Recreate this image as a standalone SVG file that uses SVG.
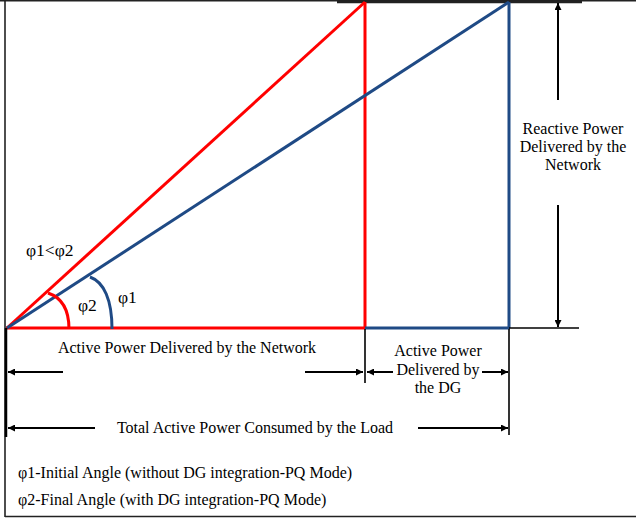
<svg xmlns="http://www.w3.org/2000/svg" width="636" height="518" viewBox="0 0 636 518">
<defs>
<style>
.t{font-family:'Liberation Serif','Times New Roman',Times,serif;font-size:16px;fill:#000}
.red{stroke:#ff0000;stroke-width:3;fill:none}
.blue{stroke:#1f4a85;stroke-width:3;fill:none}
.blk{stroke:#000;stroke-width:1.6;fill:none}
.dim{stroke:#000;stroke-width:2;fill:none}
</style>
<marker id="ah" viewBox="0 0 10 10" refX="10" refY="5" markerWidth="8" markerHeight="7" orient="auto-start-reverse" markerUnits="userSpaceOnUse">
<path d="M0,0 L10,5 L0,10 z" fill="#000"/>
</marker>
</defs>
<rect width="636" height="518" fill="#fff"/>
<g id="frame">
<path d="M0,0.8 H636 M5,0 V517 M5,516.5 H636" stroke="#222" stroke-width="1.6" fill="none"/>
<line x1="337" y1="2" x2="582" y2="2" stroke="#222" stroke-width="2.5"/>
</g>
<g id="connectors">
<line class="red" x1="7" y1="328" x2="365" y2="2"/>
<line class="red" x1="365" y1="2" x2="365" y2="328"/>
<line class="red" x1="6" y1="328" x2="366" y2="328"/>
<line class="blue" x1="7" y1="328" x2="509" y2="2"/>
<line class="blue" x1="509" y1="2" x2="509" y2="328"/>
<line class="blue" x1="365" y1="328" x2="510" y2="328"/>
<line class="blk" x1="509" y1="328" x2="579" y2="328"/>
<path class="red" d="M48,293 C60,297 69,308 69,329"/>
<path class="blue" d="M90,277 C104,282 112,300 112,329"/>
<line class="blk" x1="365" y1="329" x2="365" y2="383"/>
<line class="blk" x1="509" y1="329" x2="509" y2="435"/>
<line x1="6" y1="328" x2="6" y2="437" stroke="#000" stroke-width="2.5"/>
<line class="dim" x1="63" y1="372" x2="8" y2="372" marker-end="url(#ah)"/>
<line class="dim" x1="305" y1="372" x2="363" y2="372" marker-end="url(#ah)"/>
<line class="dim" x1="393" y1="372" x2="367" y2="372" marker-end="url(#ah)"/>
<line class="dim" x1="482" y1="372" x2="508" y2="372" marker-end="url(#ah)"/>
<line class="dim" x1="95" y1="428" x2="8" y2="428" marker-end="url(#ah)"/>
<line class="dim" x1="418" y1="428" x2="508" y2="428" marker-end="url(#ah)"/>
<line class="dim" x1="558" y1="100" x2="558" y2="3" marker-end="url(#ah)"/>
<line class="dim" x1="558" y1="205" x2="558" y2="327" marker-end="url(#ah)"/>
</g>
<g id="labels" class="t" font-family="'Liberation Serif', serif" font-size="16">
<text x="187" y="353" text-anchor="middle">Active Power Delivered by the Network</text>
<text x="438" y="356" text-anchor="middle">Active Power</text>
<text x="438" y="375" text-anchor="middle">Delivered by</text>
<text x="438" y="393" text-anchor="middle">the DG</text>
<text x="573" y="134" text-anchor="middle">Reactive Power</text>
<text x="573" y="152" text-anchor="middle">Delivered by the</text>
<text x="573" y="170" text-anchor="middle">Network</text>
<text x="255" y="433" text-anchor="middle">Total Active Power Consumed by the Load</text>
<text x="18" y="478">φ1-Initial Angle (without DG integration-PQ Mode)</text>
<text x="18" y="505">φ2-Final Angle (with DG integration-PQ Mode)</text>
<text x="26" y="256" style="font-size:17.5px">φ1&lt;φ2</text>
<text x="78" y="311" style="font-size:17.5px">φ2</text>
<text x="118" y="303" style="font-size:17.5px">φ1</text>
</g>
</svg>
